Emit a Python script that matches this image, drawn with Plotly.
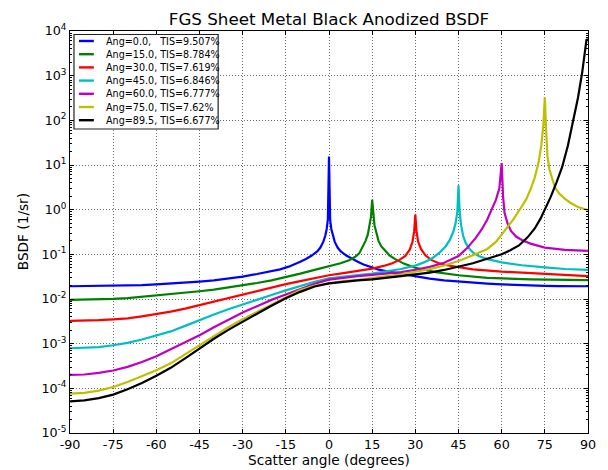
import plotly.graph_objects as go

# ---- measured BSDF curves (scatter angle in degrees, BSDF in 1/sr) ----
ANG_0 = [-90, -85, -80, -75, -70, -65, -60, -55, -50, -45, -40, -35, -30, -25, -20, -17, -14,
         -12, -10, -8, -6, -4, -3, -2, -1.3, -0.8, -0.4, 0,
         0.4, 0.8, 1.3, 2, 3, 4, 6, 8, 10, 12, 14, 17, 20, 25, 30, 35, 40, 45, 50, 55, 60, 65,
         70, 75, 80, 85, 90]
BSDF_0 = [0.0193, 0.0194, 0.0195, 0.0197, 0.0200, 0.0205, 0.0213, 0.0222, 0.0233, 0.0246,
          0.0262, 0.0285, 0.0318, 0.0362, 0.0415, 0.046, 0.053, 0.059, 0.068, 0.079, 0.094,
          0.118, 0.142, 0.19, 0.26, 0.37, 0.6, 15.5,
          0.6, 0.37, 0.26, 0.19, 0.142, 0.118, 0.094, 0.079, 0.068, 0.059, 0.053, 0.046, 0.0415,
          0.0362, 0.0318, 0.0285, 0.0262, 0.0246, 0.0233, 0.0222, 0.0213, 0.0205, 0.0200,
          0.0197, 0.0195, 0.0194, 0.0193]

ANG_15 = [-90, -85, -80, -75, -70, -65, -60, -55, -50, -45, -40, -35, -30, -25, -20, -15, -10,
          -5, 0, 4, 7, 9, 10.5, 12, 12.7, 13.5, 14.2, 14.6, 15,
          15.4, 15.8, 16.5, 17.2, 18.2, 19.5, 21, 23, 26, 30, 37, 45, 55, 70, 90]
BSDF_15 = [0.0096, 0.00965, 0.0098, 0.0101, 0.0105, 0.0112, 0.0121, 0.0129, 0.0138, 0.0149,
           0.0162, 0.018, 0.0203, 0.0228, 0.0262, 0.0306, 0.037, 0.045, 0.054, 0.063, 0.074,
           0.087, 0.105, 0.16, 0.2, 0.28, 0.45, 0.7, 1.65,
           0.7, 0.45, 0.3, 0.2, 0.15, 0.118, 0.095, 0.078, 0.062, 0.05, 0.04, 0.034, 0.0298,
           0.0276, 0.0265]

ANG_30 = [-90, -85, -80, -75, -70, -65, -60, -55, -50, -45, -40, -35, -30, -25, -20, -15, -10,
          -5, 0, 5, 10, 15, 19, 22, 24.5, 26.5, 28, 29, 29.6, 30,
          30.4, 31, 32, 33.5, 35.5, 38, 41, 45, 50, 60, 70, 80, 90]
BSDF_30 = [0.00325, 0.00327, 0.00335, 0.0035, 0.0037, 0.0041, 0.0046, 0.0052, 0.0061, 0.0073,
           0.0088, 0.0107, 0.0129, 0.0152, 0.018, 0.0215, 0.0252, 0.0295, 0.034, 0.038, 0.042,
           0.048, 0.055, 0.063, 0.075, 0.092, 0.125, 0.19, 0.33, 0.78,
           0.33, 0.19, 0.13, 0.095, 0.075, 0.064, 0.057, 0.051, 0.046, 0.041, 0.0375, 0.0345,
           0.0325]

ANG_45 = [-90, -85, -80, -75, -70, -65, -60, -55, -50, -45, -40, -35, -30, -25, -20, -15, -10,
          -5, 0, 5, 10, 15, 20, 25, 30, 33, 36, 38.5, 40.5, 42, 43.2, 44, 44.6, 45,
          45.4, 45.9, 46.6, 47.5, 48.7, 50, 52, 55, 60, 67, 75, 82, 90]
BSDF_45 = [0.00079, 0.0008, 0.00084, 0.00092, 0.00104, 0.00124, 0.0015, 0.00188, 0.0025,
           0.0034, 0.0045, 0.0059, 0.0076, 0.0097, 0.0123, 0.0156, 0.0196, 0.0243, 0.029,
           0.032, 0.0345, 0.037, 0.041, 0.047, 0.056, 0.066, 0.083, 0.11, 0.15, 0.21, 0.32,
           0.5, 0.9, 3.5,
           0.9, 0.45, 0.26, 0.18, 0.135, 0.11, 0.092, 0.078, 0.066, 0.057, 0.051, 0.047, 0.045]

ANG_60 = [-90, -85, -80, -75, -70, -65, -60, -55, -50, -45, -40, -35, -30, -25, -20, -15, -10,
          -5, 0, 5, 10, 15, 20, 25, 30, 35, 40, 45, 48, 51, 53, 55, 56.5, 58, 59.2, 60,
          60.5, 61, 62, 63.3, 65, 67, 70, 75, 82, 90]
BSDF_60 = [2.0e-4, 2.04e-4, 2.21e-4, 2.51e-4, 3.02e-4, 3.89e-4, 5.25e-4, 7.59e-4, 1.07e-3,
           1.55e-3, 2.34e-3, 3.47e-3, 5.01e-3, 6.92e-3, 9.55e-3, 0.0126, 0.0166, 0.0219,
           0.0272, 0.0302, 0.0324, 0.0347, 0.0372, 0.0398, 0.0447, 0.0525, 0.0646, 0.0912,
           0.138, 0.234, 0.355, 0.603, 1.0, 1.66, 3.02, 11.0,
           1.9, 0.85, 0.5, 0.33, 0.25, 0.21, 0.174, 0.141, 0.126, 0.120]

ANG_75 = [-90, -85, -80, -75, -70, -65, -60, -55, -50, -45, -40, -35, -30, -25, -20, -15, -10,
          -5, 0, 5, 10, 15, 20, 25, 30, 35, 40, 45, 50, 55, 58, 61, 64, 66.5, 68.5, 70, 71.5,
          72.8, 73.8, 74.5, 75,
          75.4, 75.9, 76.6, 77.5, 78.5, 80, 82, 84, 86.5, 90]
BSDF_75 = [7.6e-5, 7.9e-5, 8.9e-5, 1.07e-4, 1.38e-4, 1.86e-4, 2.54e-4, 3.63e-4, 5.75e-4,
           9.2e-4, 1.48e-3, 2.34e-3, 3.51e-3, 5.13e-3, 7.59e-3, 0.01064, 0.0158, 0.020, 0.0224,
           0.0251, 0.0269, 0.0295, 0.0324, 0.0355, 0.0407, 0.0468, 0.0562, 0.0708, 0.0955,
           0.132, 0.19, 0.34, 0.60, 1.05, 1.70, 2.82, 5.25, 11.2, 28.2, 79.4, 330,
           70.8, 15.8, 7.94, 4.79, 3.16, 2.29, 1.74, 1.41, 1.15, 0.98]

ANG_89 = [-90, -85, -80, -75, -70, -65, -60, -55, -50, -45, -40, -35, -30, -25, -20, -15, -10,
          -5, 0, 5, 10, 15, 20, 25, 30, 35, 40, 45, 50, 55, 60, 63, 66, 69, 71.5, 73.5, 75, 77,
          79, 81, 83, 85, 86.5, 88, 89, 89.5, 90]
BSDF_89 = [5.13e-5, 5.37e-5, 6.03e-5, 7.24e-5, 9.55e-5, 1.32e-4, 1.91e-4, 2.88e-4, 4.68e-4,
           7.76e-4, 1.29e-3, 2.04e-3, 3.16e-3, 4.68e-3, 7.08e-3, 0.01035, 0.01445, 0.0191,
           0.0224, 0.0245, 0.026, 0.0275, 0.0295, 0.0324, 0.0355, 0.0389, 0.0447, 0.0525,
           0.0631, 0.0794, 0.1, 0.123, 0.158, 0.24, 0.38, 0.63, 1.0, 1.91, 3.98, 8.91, 26.9,
           100, 316, 1202, 3548, 6607, 6026]

LABELS = ["Ang=0.0,\u00a0\u00a0 TIS=9.507%", "Ang=15.0, TIS=8.784%", "Ang=30.0, TIS=7.619%",
          "Ang=45.0, TIS=6.846%", "Ang=60.0, TIS=6.777%", "Ang=75.0, TIS=7.62%",
          "Ang=89.5, TIS=6.677%"]
COLORS = ["#0000ff", "#008000", "#ff0000", "#00bfbf", "#bf00bf", "#bfbf00", "#000000"]

X_TICKS = list(range(-90, 91, 15))
X_TICK_TEXT = [str(v) for v in X_TICKS]
Y_EXP = list(range(-5, 5))
Y_TICKS = [10.0 ** e for e in Y_EXP]
Y_TICK_TEXT = ["10<sup>%d</sup>" % e for e in Y_EXP]
Y_MINOR = [m * 10.0 ** e for e in range(-5, 4) for m in range(2, 10)]

series = [(ANG_0, BSDF_0), (ANG_15, BSDF_15), (ANG_30, BSDF_30), (ANG_45, BSDF_45),
          (ANG_60, BSDF_60), (ANG_75, BSDF_75), (ANG_89, BSDF_89)]

W, H = 608, 470
ML, MR, MT, MB = 70, 17, 31, 37
PW, PH = W - ML - MR, H - MT - MB
FONT = "DejaVu Sans"


def px(x):
    return (x - ML) / PW


def py(y):
    return (H - MB - y) / PH


fig = go.Figure()
for (ang, val), name, color in zip(series, LABELS, COLORS):
    fig.add_trace(go.Scatter(x=ang, y=val, mode="lines", name=name,
                             line=dict(color=color, width=2.2), showlegend=False))

axis_common = dict(
    showline=True, linecolor="black", linewidth=1, mirror="ticks",
    ticks="inside", ticklen=4, tickwidth=1, tickcolor="black",
    showgrid=True, gridcolor="#6a6a6a", gridwidth=1, griddash="1px,2px",
    zeroline=False, tickfont=dict(family=FONT, size=12.7, color="black"),
)

fig.update_xaxes(range=[-90, 90], tickmode="array", tickvals=X_TICKS, ticktext=X_TICK_TEXT,
                 **axis_common)
fig.update_yaxes(type="log", range=[-5, 4], tickmode="array", tickvals=Y_TICKS,
                 ticktext=Y_TICK_TEXT,
                 minor=dict(tickmode="array", tickvals=Y_MINOR, ticks="inside", ticklen=2,
                            tickcolor="black", showgrid=False),
                 **axis_common)

# legend box with line samples and labels
shapes = [dict(type="rect", xref="paper", yref="paper", x0=px(74), x1=px(219),
               y0=py(129), y1=py(34.5), line=dict(color="#222", width=1.2),
               fillcolor="white", layer="above")]
annotations = []
row0, step = 41.0, 13.2
for i, (name, color) in enumerate(zip(LABELS, COLORS)):
    yc = row0 + i * step
    shapes.append(dict(type="line", xref="paper", yref="paper", x0=px(79), x1=px(94),
                       y0=py(yc), y1=py(yc), line=dict(color=color, width=2.4), layer="above"))
    annotations.append(dict(text=name, xref="paper", yref="paper", x=px(104), y=py(yc),
                            xanchor="left", yanchor="middle", showarrow=False,
                            font=dict(family=FONT, size=9.6, color="black")))

annotations.append(dict(text="Scatter angle (degrees)", xref="paper", yref="paper",
                        x=0.5, y=py(460), xanchor="center", yanchor="middle", showarrow=False,
                        font=dict(family=FONT, size=13.7, color="black")))
annotations.append(dict(text="BSDF (1/sr)", xref="paper", yref="paper", x=px(23), y=0.5,
                        textangle=-90, xanchor="center", yanchor="middle", showarrow=False,
                        font=dict(family=FONT, size=13.7, color="black")))

fig.update_layout(
    width=W, height=H, margin=dict(l=ML, r=MR, t=MT, b=MB),
    paper_bgcolor="white", plot_bgcolor="white",
    title=dict(text="FGS Sheet Metal Black Anodized BSDF", x=0.5, xref="paper",
               y=1 - 19 / H, yref="container", xanchor="center", yanchor="middle",
               font=dict(family=FONT, size=16.7, color="black")),
    shapes=shapes, annotations=annotations, showlegend=False,
)

fig.write_html("out.html")
